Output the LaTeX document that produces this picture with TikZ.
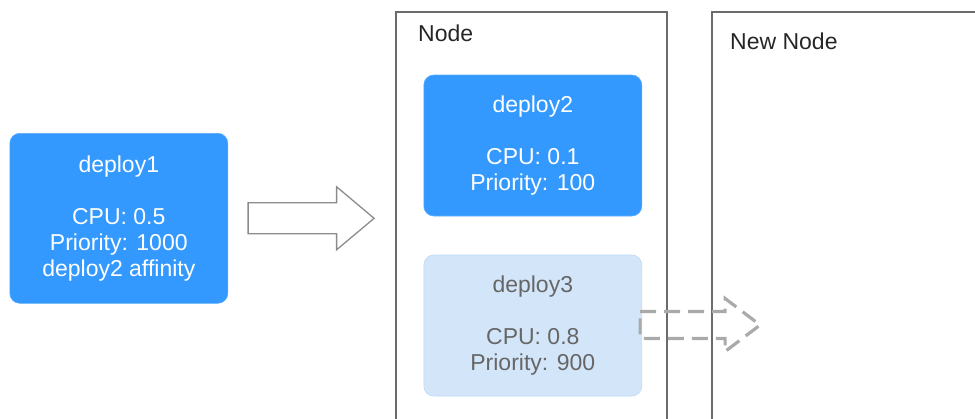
\documentclass[tikz,border=0pt]{standalone}
\usepackage{fontspec}
\setmainfont{Liberation Sans}
\usepackage{xcolor}
\definecolor{podblue}{HTML}{3399FF}
\definecolor{podedge}{HTML}{5AADFF}
\definecolor{podpale}{HTML}{D3E6F9}
\definecolor{paleedge}{HTML}{BCD9F4}
\definecolor{paletext}{HTML}{666666}
\definecolor{hostline}{HTML}{6B6B6B}
\definecolor{arrowgray}{HTML}{8C8C8C}
\definecolor{dashgray}{HTML}{AAAAAA}

\tikzset{
  podbox/.style={rounded corners=10pt, minimum width=218pt, align=center,
    inner sep=0pt, font=\fontsize{23}{26}\selectfont},
  bluepod/.style={podbox, fill=podblue, draw=podedge, line width=0.6pt, text=white},
  palepod/.style={podbox, fill=podpale, draw=paleedge, line width=0.6pt, text=paletext},
  hostbox/.style={draw=hostline, line width=1.4pt},
  hostlabel/.style={anchor=west, inner sep=0pt, text=black!85,
    font=\fontsize{23}{26}\selectfont},
  bigarrow/.style={draw=arrowgray, fill=white, line width=1.3pt, line join=miter},
  movearrow/.style={draw=dashgray, line width=3.2pt, dash pattern=on 16pt off 8pt}
}

\begin{document}
\begin{tikzpicture}[x=1pt, y=-1pt]
  \useasboundingbox (0,0) rectangle (975,418);

  % hosts
  \draw[hostbox] (396,12) rectangle (667,440);
  \draw[hostbox] (712,12) rectangle (1000,440);
  \node[hostlabel] (hostname) at (418,33) {Node};
  \node[hostlabel] (newhostname) at (730,41) {New Node};

  % pending pod
  \node[bluepod, minimum height=170pt] (d1) at (118.8,218.3)
    {deploy1\\[26pt]CPU: 0.5\\Priority: 1000\\deploy2 affinity};

  % pods on the node
  \node[bluepod, minimum height=141pt] (d2) at (532.8,145.5)
    {deploy2\\[26pt]CPU: 0.1\\Priority: 100};
  \node[palepod, minimum height=141pt] (d3) at (532.8,325.5)
    {deploy3\\[26pt]CPU: 0.8\\Priority: 900};

  % schedule arrow
  \coordinate (a1) at ([xshift=20pt]d1.east);
  \draw[bigarrow] (a1) ++(0,-15.5) -- ++(88.5,0) -- ++(0,-16) -- ++(37.5,31.5)
    -- ++(-37.5,31.5) -- ++(0,-16) -- ++(-88.5,0) -- cycle;

  % preempted pod moves out
  \coordinate (a2) at ([xshift=-2pt]d3.east);
  \draw[movearrow] (a2) ++(0,-14) -- ++(85,0) -- ++(0,-13) -- ++(35,26.5)
    -- ++(-35,26.5) -- ++(0,-13) -- ++(-85,0) -- cycle;
\end{tikzpicture}
\end{document}
